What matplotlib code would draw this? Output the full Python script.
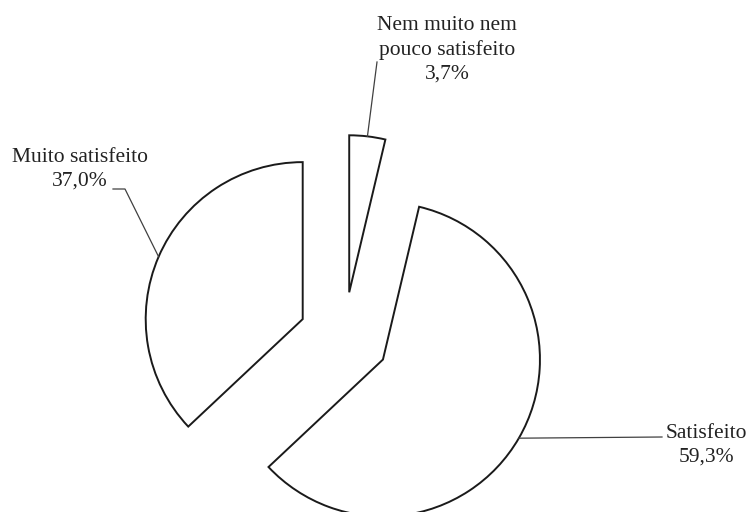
import numpy as np
import matplotlib.pyplot as plt

# data
labels = ["Nem muito nem\npouco satisfeito", "Satisfeito", "Muito satisfeito"]
values = [3.7, 59.3, 37.0]

plt.rcParams['font.family'] = ['Liberation Serif', 'DejaVu Serif']

W, H = 752, 512
fig = plt.figure(figsize=(7.52, 5.12), dpi=100)
ax = fig.add_axes([0, 0, 1, 1])

wedges, _ = ax.pie(values, startangle=90, counterclock=False,
                   center=(344, H - 337), radius=157, explode=[45, 45, 45],
                   wedgeprops=dict(facecolor='white', edgecolor='#1a1a1a', linewidth=1.4))
ax.set_xlim(0, W)
ax.set_ylim(0, H)
ax.set_aspect('equal')
ax.axis('off')

# label placement (pixel coords from top-left): elbow points and text centre
leader_pts = [[(377, 62)], [(662, 437)], [(125, 189), (113, 189)]]
text_pos = [(447, 50), (706, 445), (80, 169)]

for w, lab, v, pts, (tx, ty) in zip(wedges, labels, values, leader_pts, text_pos):
    mid = np.deg2rad((w.theta1 + w.theta2) / 2)
    ax_, ay_ = w.center[0] + w.r * np.cos(mid), w.center[1] + w.r * np.sin(mid)
    xs = [ax_] + [p[0] for p in pts]
    ys = [ay_] + [H - p[1] for p in pts]
    ax.plot(xs, ys, color='#404040', linewidth=0.9)
    pct = f"{v:.1f}%".replace('.', ',')
    ax.text(tx, H - ty, lab + "\n" + pct, ha='center', va='center',
            multialignment='center', fontsize=15.5, color='#222222', linespacing=1.32)

plt.savefig("out.png", dpi=100)
